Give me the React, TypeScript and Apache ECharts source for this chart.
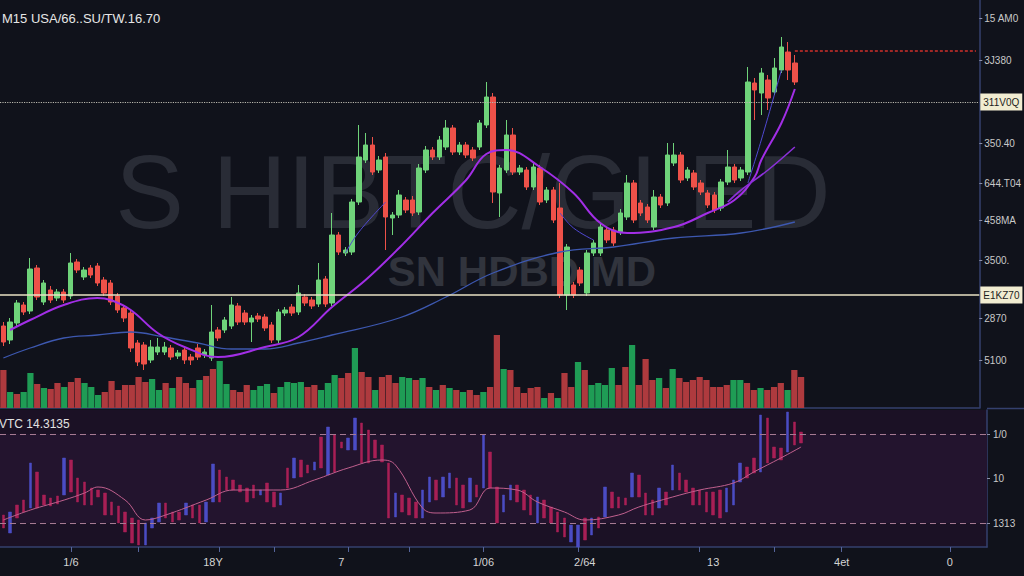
import React, { useEffect, useRef } from "react";
import * as echarts from "echarts";

const FONT = "Liberation Sans, DejaVu Sans, sans-serif";
const SLOT_COUNT = 146;
const categories = Array.from({ length: SLOT_COUNT }, (_, i) => `T${i}`);

const titleText = "M15 USA/66..SU/TW.16.70";
const oscTitle = "VTC 14.3135";
const watermarkMain = "S HIBTC/GLED";
const watermarkSub = "SN HDBD MD";

// [open, close, low, high]
const candles = [
  [82, 66, 62, 86], [68, 86, 64, 90], [85, 105, 82, 108], [103, 96, 93, 106], [97, 139, 94, 150],
  [140, 111, 108, 143], [106, 125, 103, 128], [118, 108, 105, 122], [110, 116, 107, 119], [116, 108, 105, 119],
  [112, 145, 109, 155], [146, 138, 135, 149], [131, 138, 128, 141], [140, 133, 130, 143], [142, 125, 122, 145],
  [128, 115, 112, 131], [125, 106, 103, 128], [112, 98, 95, 115], [100, 90, 86, 103], [95, 60, 56, 98],
  [65, 46, 42, 68], [63, 44, 38, 66], [48, 61, 45, 68], [56, 61, 53, 70], [56, 61, 53, 66],
  [60, 51, 48, 63], [52, 55, 49, 58], [58, 48, 44, 61], [51, 48, 43, 54], [60, 51, 48, 64],
  [53, 56, 50, 59], [50, 76, 47, 103], [78, 70, 67, 81], [78, 88, 75, 91], [82, 103, 79, 111],
  [102, 86, 83, 105], [95, 86, 83, 98], [86, 90, 66, 93], [92, 89, 86, 95], [91, 80, 77, 94],
  [83, 68, 65, 86], [68, 96, 65, 99], [95, 98, 92, 101], [101, 95, 92, 104], [96, 115, 93, 123],
  [111, 105, 102, 114], [108, 102, 99, 111], [104, 128, 101, 145], [129, 104, 101, 132], [105, 173, 102, 195],
  [173, 156, 153, 176], [155, 158, 152, 161], [156, 206, 153, 209], [206, 251, 203, 283], [248, 263, 245, 275],
  [263, 236, 233, 271], [238, 248, 235, 252], [251, 191, 158, 255], [190, 193, 173, 196], [193, 213, 190, 218],
  [208, 198, 195, 211], [208, 195, 192, 212], [196, 240, 193, 244], [238, 258, 235, 262], [258, 251, 248, 261],
  [251, 268, 248, 272], [261, 280, 258, 288], [280, 256, 253, 283], [256, 263, 253, 266], [263, 253, 250, 266],
  [258, 250, 247, 261], [261, 285, 258, 288], [283, 311, 280, 326], [311, 216, 205, 315], [215, 240, 191, 243],
  [238, 273, 235, 288], [273, 236, 233, 280], [236, 240, 233, 243], [238, 221, 218, 241], [221, 241, 218, 245],
  [240, 206, 203, 243], [208, 218, 205, 221], [218, 188, 185, 221], [200, 113, 110, 225], [113, 161, 98, 164],
  [123, 113, 110, 126], [138, 125, 122, 141], [115, 155, 112, 158], [155, 165, 152, 168], [155, 181, 152, 184],
  [178, 168, 165, 181], [178, 165, 162, 181], [176, 195, 173, 199], [191, 225, 188, 233], [225, 188, 185, 228],
  [205, 195, 192, 208], [201, 188, 185, 204], [181, 211, 178, 218], [211, 203, 200, 214], [205, 253, 202, 265],
  [245, 253, 242, 265], [253, 228, 225, 256], [230, 238, 227, 241], [235, 221, 218, 238], [225, 216, 213, 228],
  [215, 203, 200, 218], [213, 198, 195, 216], [200, 226, 197, 229], [226, 241, 223, 258], [241, 228, 225, 244],
  [230, 238, 227, 241], [236, 326, 233, 341], [325, 318, 288, 330], [315, 335, 293, 340], [328, 310, 298, 333],
  [316, 340, 313, 350], [338, 361, 335, 371], [356, 338, 328, 366], [345, 326, 323, 353],
];

const volumes = [
  38, 16, 14, 16, 35, 24, 20, 19, 25, 21, 26, 30, 25, 21, 13, 16, 27, 18, 23, 23,
  31, 26, 29, 18, 25, 20, 31, 25, 20, 28, 32, 39, 47, 24, 18, 16, 23, 18, 22, 24,
  15, 21, 26, 25, 26, 21, 23, 18, 25, 33, 30, 35, 60, 36, 31, 18, 31, 33, 25, 31,
  30, 28, 30, 21, 18, 23, 20, 18, 16, 18, 13, 16, 21, 73, 39, 38, 21, 15, 20, 21,
  10, 15, 10, 35, 21, 46, 38, 23, 25, 23, 40, 23, 41, 63, 23, 49, 28, 30, 20, 39,
  30, 26, 28, 31, 28, 21, 21, 23, 28, 28, 25, 18, 20, 18, 21, 25, 18, 38, 31,
];
const volumeSides = (
  "RGRGGRGRRG" + "RRGGGRRRRR" + "RRGGRGRRRG" + "RRGGRRRGGG" + "RGGGGRRGGG" +
  "RRGRRGRRRG" + "GRGRGRGRGR" + "RGRRGRRRRR" + "GRGRRGRGGG" + "GRRGRRRGRG" +
  "RRRRRRRRGG" + "RRGRRRGRR"
).split("");

// moving averages: [slot index, value]
const maMid = [
  [1, 78], [4, 88], [9, 103], [14, 110], [16, 108], [19, 98], [23, 75], [27, 61], [32, 51], [39, 61],
  [44, 71], [49, 101], [54, 128], [59, 160], [64, 195], [69, 228], [72, 254], [75, 258], [80, 241], [85, 215],
  [89, 185], [93, 175], [100, 181], [105, 195], [109, 208], [112, 231], [113, 248], [116, 285], [118, 319],
];
const maSecond = [[108, 206], [110, 218], [114, 238], [118, 261]];
const maSlow = [
  [0, 50], [4, 60], [9, 70], [14, 73], [19, 76], [24, 71], [29, 65], [34, 59], [39, 59], [44, 65],
  [49, 73], [59, 90], [66, 111], [73, 135], [83, 156], [91, 161], [100, 170], [110, 175], [118, 186],
];
const maFastA = [[51, 155], [53, 176], [57, 206]];
const maFastB = [[83, 195], [85, 180], [88, 168]];
const maFastC = [[111, 225], [113, 268], [116, 338]];

// red price level (start slot, value) to the right edge
const redLevel = [[118, 357], [145, 357]];

// oscillator bars: [open, close]
const oscBars = [
  [32, 19], [14, 35], [42, 29], [47, 35], [39, 84], [75, 39], [52, 42], [49, 41], [51, 43], [52, 89],
  [87, 55], [69, 45], [65, 42], [59, 42], [57, 50], [54, 32], [45, 32], [41, 24], [35, 15], [29, 4],
  [27, 2], [2, 24], [19, 29], [25, 44], [44, 29], [35, 25], [35, 27], [32, 44], [42, 29], [42, 24],
  [25, 45], [45, 83], [77, 45], [70, 57], [67, 57], [62, 55], [59, 45], [62, 49], [52, 57], [64, 45],
  [55, 40], [42, 54], [79, 59], [69, 89], [87, 70], [82, 74], [77, 85], [110, 79], [72, 120], [112, 75],
  [105, 99], [97, 109], [97, 129], [124, 84], [117, 84], [107, 89], [102, 85], [84, 29], [30, 54], [52, 35],
  [49, 32], [45, 29], [29, 57], [45, 70], [67, 47], [50, 70], [59, 74], [69, 42], [62, 39], [45, 69],
  [62, 50], [59, 112], [95, 59], [60, 24], [35, 52], [47, 62], [62, 45], [57, 37], [52, 32], [24, 50],
  [47, 29], [40, 24], [35, 15], [29, 10], [5, 22], [0, 22], [29, 7], [12, 29], [30, 19], [30, 60],
  [55, 39], [50, 39], [49, 42], [50, 74], [72, 50], [54, 32], [47, 32], [39, 59], [55, 42], [57, 82],
  [74, 57], [67, 55], [59, 42], [57, 42], [55, 35], [55, 32], [57, 29], [35, 59], [42, 67], [65, 84],
  [80, 69], [89, 74], [75, 132], [129, 84], [100, 89], [99, 87], [95, 135], [125, 102], [115, 104],
];
const oscLine = [
  [0, 27], [4, 37], [9, 47], [12, 54], [14, 60], [18, 47], [21, 27], [24, 32], [30, 47], [34, 57],
  [41, 57], [46, 67], [51, 79], [56, 87], [58, 82], [62, 39], [64, 34], [69, 37], [72, 59], [76, 57],
  [79, 45], [83, 35], [86, 27], [91, 32], [94, 40], [99, 50], [103, 57], [108, 64], [111, 75], [115, 89],
  [118, 100],
];

const priceLabelValues = [390, 348, 265, 225, 188, 148, 90, 48];
const priceLabelTexts = ["15 AM0", "3J380", "350.40", "644.T04", "458MA", "3500.", "2870", "5100"];
const resistanceValue = 306;
const resistanceText = "311V0Q";
const supportValue = 113;
const supportText = "E1KZ70";

const oscLabelValues = [113, 69, 24];
const oscLabelTexts = ["1/0", "10", "1313"];
const oscUpper = 113;
const oscLower = 24;

const xLabelIndex = [10, 31, 50, 71, 86, 105, 124, 140];
const xLabelTexts = ["1/6", "18Y", "7", "1/06", "2/64", "13", "4et", "0"];
const xTickIndex = [10, 20, 32, 40, 51, 60, 71, 85, 103, 114, 124, 140];

const AXIS = "#34406e";
const UP = "#6fd37a";
const DOWN = "#ee5149";

export default function App() {
  const ref = useRef<HTMLDivElement>(null);
  useEffect(() => {
    const chart = echarts.init(ref.current!, null, { renderer: "svg" });
    const boxLabel = (text: string) => ({
      show: true,
      position: "end",
      formatter: text,
      backgroundColor: "#f1ecd1",
      color: "#1c1c1c",
      padding: [4, 3, 3, 3],
      fontSize: 10,
      distance: 1,
      fontFamily: FONT,
    });
    const option: any = {
      animation: false,
      backgroundColor: "#10121b",
      textStyle: { fontFamily: FONT },
      grid: [
        { left: 0, width: 987, top: 0, height: 408 },
        { left: 0, width: 987, top: 330, height: 78 },
        { left: 0, width: 987, top: 410, height: 137, show: true, backgroundColor: "#1b1125", borderWidth: 0 },
      ],
      xAxis: [
        {
          type: "category", gridIndex: 0, data: categories,
          axisLine: { show: true, lineStyle: { color: AXIS, width: 1.5 } },
          axisTick: { show: false }, axisLabel: { show: false }, splitLine: { show: false },
        },
        { type: "category", gridIndex: 1, data: categories, show: false },
        {
          type: "category", gridIndex: 2, data: categories,
          axisLine: { show: true, lineStyle: { color: AXIS, width: 1.5 } },
          axisTick: {
            show: true, alignWithLabel: true, length: 5, lineStyle: { color: "#56649a" },
            interval: (i: number) => xTickIndex.includes(i),
          },
          axisLabel: {
            show: true, color: "#d4d4d4", fontSize: 11, margin: 9,
            interval: (i: number) => xLabelIndex.includes(i),
            formatter: (_v: string, i: number) => {
              const k = xLabelIndex.indexOf(i);
              return k >= 0 ? xLabelTexts[k] : "";
            },
          },
          splitLine: { show: false },
        },
      ],
      yAxis: [
        {
          type: "value", gridIndex: 0, position: "right", min: 0, max: 408,
          axisLine: { show: true, lineStyle: { color: AXIS, width: 1.5 } },
          axisTick: { show: true, length: 3, customValues: priceLabelValues, lineStyle: { color: "#8a8fa8" } },
          axisLabel: {
            show: true, customValues: priceLabelValues, color: "#c9c9c9", fontSize: 10, margin: 5,
            formatter: (v: number) => {
              const k = priceLabelValues.indexOf(v);
              return k >= 0 ? priceLabelTexts[k] : "";
            },
          },
          splitLine: { show: false },
        },
        { type: "value", gridIndex: 1, min: 0, max: 78, show: false },
        {
          type: "value", gridIndex: 2, position: "right", min: 0, max: 137,
          axisLine: { show: true, lineStyle: { color: AXIS, width: 1.5 } },
          axisTick: { show: true, length: 3, customValues: oscLabelValues, lineStyle: { color: "#8a8fa8" } },
          axisLabel: {
            show: true, customValues: oscLabelValues, color: "#c9c9c9", fontSize: 10, margin: 6,
            formatter: (v: number) => {
              const k = oscLabelValues.indexOf(v);
              return k >= 0 ? oscLabelTexts[k] : "";
            },
          },
          splitLine: { show: false },
        },
      ],
      graphic: [
        {
          type: "text", x: 473, y: 192, z: -10, silent: true,
          style: { text: watermarkMain, fontSize: 103, fontFamily: FONT, fill: "#292c36", align: "center", verticalAlign: "middle" },
        },
        {
          type: "text", x: 522, y: 271, z: -10, silent: true,
          style: { text: watermarkSub, fontSize: 42, fontWeight: "bold", fontFamily: FONT, fill: "#31343d", align: "center", verticalAlign: "middle" },
        },
        {
          type: "text", x: 2, y: 18, z: 10,
          style: { text: titleText, fontSize: 13, fontFamily: FONT, fill: "#e6e6e6", align: "left", verticalAlign: "middle" },
        },
        {
          type: "text", x: -1, y: 424, z: 10,
          style: { text: oscTitle, fontSize: 12, fontFamily: FONT, fill: "#e2e2e2", align: "left", verticalAlign: "middle" },
        },
        {
          type: "line", z: 10, silent: true,
          shape: { x1: 987, y1: 408.5, x2: 1024, y2: 408.5 },
          style: { stroke: AXIS, lineWidth: 1.5 },
        },
      ],
      series: [
        {
          type: "bar", name: "Volume", xAxisIndex: 1, yAxisIndex: 1, z: 1,
          barCategoryGap: "8%",
          data: volumes.map((v, i) => ({
            value: v,
            itemStyle: { color: volumeSides[i] === "G" ? "#1f9c55" : "#ae3a3e" },
          })),
        },
        {
          type: "candlestick", name: "Price", xAxisIndex: 0, yAxisIndex: 0, z: 3,
          barWidth: 5,
          itemStyle: { color: UP, color0: DOWN, borderColor: UP, borderColor0: DOWN, borderWidth: 1 },
          data: candles,
          markLine: {
            silent: true, symbol: ["none", "none"],
            data: [
              { yAxis: resistanceValue, lineStyle: { type: "dotted", color: "#b9b7ad", width: 1.2 }, label: boxLabel(resistanceText) },
              { yAxis: supportValue, lineStyle: { type: "solid", color: "#e9e2c4", width: 1.5 }, label: boxLabel(supportText) },
            ],
          },
        },
        {
          type: "line", name: "Red level", xAxisIndex: 0, yAxisIndex: 0, z: 4, data: redLevel,
          symbol: "none", lineStyle: { color: "#d0302b", width: 1.3, type: [3, 2] },
        },
        {
          type: "line", name: "MA slow", xAxisIndex: 0, yAxisIndex: 0, z: 4, data: maSlow,
          smooth: 0.4, symbol: "none", lineStyle: { color: "#3d58b0", width: 1.3 },
        },
        {
          type: "line", name: "MA mid", xAxisIndex: 0, yAxisIndex: 0, z: 4, data: maMid,
          smooth: 0.4, symbol: "none", lineStyle: { color: "#a22ee6", width: 2 },
        },
        {
          type: "line", name: "MA second", xAxisIndex: 0, yAxisIndex: 0, z: 4, data: maSecond,
          smooth: 0.4, symbol: "none", lineStyle: { color: "#8b30d8", width: 1.6 },
        },
        ...[maFastA, maFastB, maFastC].map((d, k) => ({
          type: "line", name: `MA fast ${k + 1}`, xAxisIndex: 0, yAxisIndex: 0, z: 4, data: d,
          smooth: 0.4, symbol: "none", lineStyle: { color: "#5048d2", width: 1 },
        })),
        {
          type: "candlestick", name: "Oscillator", xAxisIndex: 2, yAxisIndex: 2, z: 3,
          barWidth: 3,
          itemStyle: { color: "#4b4cc4", color0: "#a81f55", borderColor: "#4b4cc4", borderColor0: "#a81f55", borderWidth: 0.5 },
          data: oscBars.map(([o, c]) => [o, c, Math.min(o, c), Math.max(o, c)]),
          markArea: {
            silent: true,
            itemStyle: { color: "#23142e" },
            data: [[{ yAxis: oscLower }, { yAxis: oscUpper }]],
          },
          markLine: {
            silent: true, symbol: ["none", "none"], label: { show: false },
            lineStyle: { type: [6, 4], color: "#a67a92", width: 1 },
            data: [{ yAxis: oscUpper }, { yAxis: oscLower }],
          },
        },
        {
          type: "line", name: "Signal", xAxisIndex: 2, yAxisIndex: 2, z: 4, data: oscLine,
          smooth: 0.4, symbol: "none", lineStyle: { color: "#c0608e", width: 1 },
        },
      ],
    };
    chart.setOption(option);
    return () => chart.dispose();
  }, []);
  return <div ref={ref} style={{ position: "absolute", left: 0, top: 0, width: 1024, height: 576 }} />;
}
